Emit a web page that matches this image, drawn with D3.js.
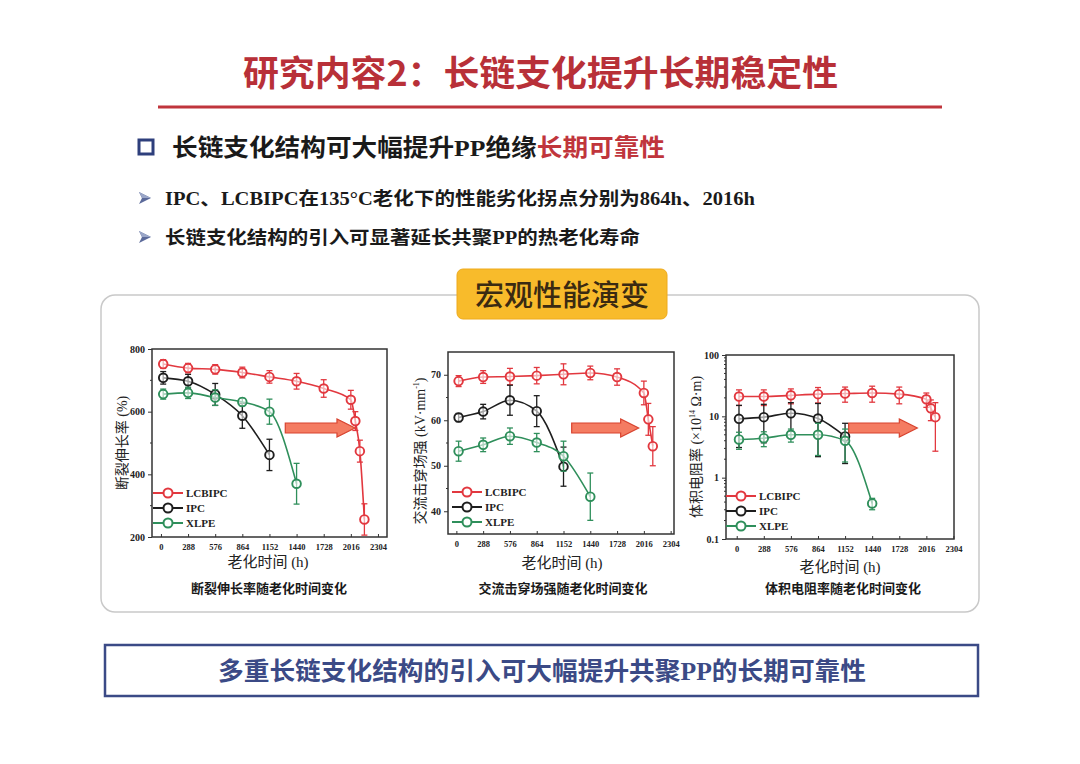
<!DOCTYPE html>
<meta charset="utf-8">
<body style="margin:0;background:#fff">
<script src="https://d3js.org/d3.v7.min.js"></script>
<script>

// Set dimensions of the slide.

var width = 1080,
    height = 764;

// Data.

var seriesNames = ["LCBIPC", "IPC", "XLPE"];
var seriesColors = ["#e2383f", "#1e1e1e", "#2f8f5b"];
var xTicks = [0, 288, 576, 864, 1152, 1440, 1728, 2016, 2304];

// Elongation at break (%)
var elongTimeLCBIPC = [24, 288, 576, 864, 1152, 1440, 1728, 2016, 2064, 2112, 2160];
var elongLCBIPC = [752, 739, 735, 725, 711, 697, 674, 638, 570, 474, 256];
var elongErrLCBIPC = [14, 15, 15, 17, 20, 25, 28, 30, 30, 35, 50];
var elongTimeIPC = [24, 288, 576, 864, 1152];
var elongIPC = [708, 697, 655, 587, 462];
var elongErrIPC = [20, 22, 35, 40, 50];
var elongTimeXLPE = [24, 288, 576, 864, 1152, 1440];
var elongXLPE = [656, 660, 645, 631, 600, 370];
var elongErrXLPE = [16, 18, 25, 12, 40, 65];

// AC breakdown strength (kV/mm)
var bdTimeLCBIPC = [24, 288, 576, 864, 1152, 1440, 1728, 2016, 2064, 2112];
var bdLCBIPC = [68.6, 69.5, 69.6, 69.8, 70.1, 70.4, 69.5, 66.0, 60.2, 54.3];
var bdErrLCBIPC = [1.2, 1.4, 1.8, 1.8, 2.3, 1.5, 1.8, 2.6, 3.5, 4.3];
var bdTimeIPC = [24, 288, 576, 864, 1152];
var bdIPC = [60.6, 61.9, 64.4, 62.0, 49.8];
var bdErrIPC = [0.9, 1.6, 3.3, 3.4, 4.3];
var bdTimeXLPE = [24, 288, 576, 864, 1152, 1440];
var bdXLPE = [53.2, 54.6, 56.5, 55.1, 52.1, 43.2];
var bdErrXLPE = [2.2, 1.5, 1.8, 2.0, 3.3, 5.2];

// Volume resistivity (x10^14 Ohm.m)
var rhoTimeLCBIPC = [24, 288, 576, 864, 1152, 1440, 1728, 2016, 2064, 2112];
var rhoLCBIPC = [21, 21, 22, 23, 23.5, 24, 23, 19, 13.5, 9.7];
var rhoErrLCBIPC = [6, 6, 6, 6.5, 6.5, 7, 7, 5, 5, 7];
var rhoTimeIPC = [24, 288, 576, 864, 1152];
var rhoIPC = [9.1, 9.7, 11.2, 9.2, 4.7];
var rhoErrIPC = [6, 6, 5.5, 7, 3];
var rhoTimeXLPE = [24, 288, 576, 864, 1152, 1440];
var rhoXLPE = [4.2, 4.4, 5.0, 5.0, 4.0, 0.38];
var rhoErrXLPE = [1.3, 1.2, 1.2, 2.7, 2.2, 0.08];

var serif = "'Liberation Serif', 'Noto Sans CJK SC', serif";
var cjk = "'Noto Sans CJK SC', sans-serif";

// Build SVG container.

var svg = d3.select("body").append("svg")
    .attr("width", width)
    .attr("height", height)
    .style("display", "block");

// Slide heading.

svg.append("text")
    .attr("x", 243)
    .attr("y", 86)
    .attr("textLength", 595)
    .attr("lengthAdjust", "spacingAndGlyphs")
    .attr("font-family", cjk)
    .attr("font-weight", 700)
    .attr("font-size", "35px")
    .attr("fill", "#b83038")
    .text("研究内容2：长链支化提升长期稳定性");

svg.append("line")
    .attr("x1", 158).attr("x2", 942)
    .attr("y1", 107).attr("y2", 107)
    .attr("stroke", "#c0353c")
    .attr("stroke-width", 3);

svg.append("rect")
    .attr("x", 139).attr("y", 140)
    .attr("width", 14).attr("height", 14)
    .attr("fill", "#fff")
    .attr("stroke", "#2e3f7c")
    .attr("stroke-width", 3);

var sub = svg.append("text")
    .attr("x", 172)
    .attr("y", 156)
    .attr("textLength", 493)
    .attr("lengthAdjust", "spacingAndGlyphs")
    .attr("font-family", serif)
    .attr("font-weight", 700)
    .attr("font-size", "24px")
    .attr("fill", "#1a1a1a");
sub.append("tspan").text("长链支化结构可大幅提升PP绝缘");
sub.append("tspan").attr("fill", "#c0353c").text("长期可靠性");

var bullets = [
    {y: 205, len: 590, text: "IPC、LCBIPC在135°C老化下的性能劣化拐点分别为864h、2016h"},
    {y: 244, len: 475, text: "长链支化结构的引入可显著延长共聚PP的热老化寿命"}
];

bullets.forEach(function(b) {
    // arrowhead bullet (two-tone like the slide's "➢")
    var cy = b.y - 7;
    svg.append("path")
        .attr("d", "M139," + (cy - 6) + "L151," + cy + "L139," + (cy + 6) + "L142," + cy + "Z")
        .attr("fill", "#5b6a9a");
    svg.append("path")
        .attr("d", "M139," + (cy - 6) + "L151," + cy + "L142," + cy + "Z")
        .attr("fill", "#9aa6c8");
    svg.append("text")
        .attr("x", 165)
        .attr("y", b.y)
        .attr("textLength", b.len)
        .attr("lengthAdjust", "spacingAndGlyphs")
        .attr("font-family", serif)
        .attr("font-weight", 700)
        .attr("font-size", "18px")
        .attr("fill", "#1a1a1a")
        .text(b.text);
});

// Grey panel and its label.

svg.append("rect")
    .attr("x", 101).attr("y", 295)
    .attr("width", 878).attr("height", 317)
    .attr("rx", 14)
    .attr("fill", "#fff")
    .attr("stroke", "#c9c9c9")
    .attr("stroke-width", 1.5);

svg.append("rect")
    .attr("x", 457).attr("y", 269)
    .attr("width", 210).attr("height", 50)
    .attr("rx", 6)
    .attr("fill", "#f8bb2b")
    .attr("stroke", "#eeaa1c");

svg.append("text")
    .attr("x", 562)
    .attr("y", 306)
    .attr("text-anchor", "middle")
    .attr("font-family", cjk)
    .attr("font-weight", 500)
    .attr("font-size", "29px")
    .attr("fill", "#3a2a12")
    .text("宏观性能演变");

// Bottom banner.

svg.append("rect")
    .attr("x", 105).attr("y", 645)
    .attr("width", 873).attr("height", 51)
    .attr("fill", "#fff")
    .attr("stroke", "#3b4a86")
    .attr("stroke-width", 2.5);

svg.append("text")
    .attr("x", 218)
    .attr("y", 680)
    .attr("textLength", 648)
    .attr("lengthAdjust", "spacingAndGlyphs")
    .attr("font-family", serif)
    .attr("font-weight", 700)
    .attr("font-size", "25px")
    .attr("fill", "#3b4a86")
    .text("多重长链支化结构的引入可大幅提升共聚PP的长期可靠性");

// One panel of the figure.

function drawPanel(p, idx) {
    var g = svg.append("g");

    var x = d3.scaleLinear().domain(p.xDomain).range([p.left, p.right]);
    var y = (p.log ? d3.scaleLog() : d3.scaleLinear())
        .domain(p.yDomain).range([p.bottom, p.top]);

    var clipId = "clip" + idx;
    g.append("clipPath").attr("id", clipId)
        .append("rect")
        .attr("x", p.left).attr("y", p.top)
        .attr("width", p.right - p.left).attr("height", p.bottom - p.top);

    // x axis
    var xAxis = d3.axisBottom(x).tickValues(xTicks).tickSize(3).tickPadding(4)
        .tickFormat(d3.format("d"));
    var gx = g.append("g")
        .attr("transform", "translate(0," + p.bottom + ")")
        .call(xAxis);
    gx.select(".domain").remove();
    gx.selectAll("line").attr("stroke", "#333").attr("y2", -3);
    gx.selectAll("text")
        .attr("font-family", serif)
        .attr("font-weight", 700)
        .attr("font-size", "8.5px")
        .attr("fill", "#222");

    // y axis
    var yAxis = d3.axisLeft(y).tickValues(p.yTicks).tickSize(4).tickPadding(3)
        .tickFormat(p.yFormat);
    var gy = g.append("g")
        .attr("transform", "translate(" + p.left + ",0)")
        .call(yAxis);
    gy.select(".domain").remove();
    gy.selectAll("line").attr("stroke", "#333");
    gy.selectAll("text")
        .attr("font-family", serif)
        .attr("font-weight", 700)
        .attr("font-size", "10px")
        .attr("fill", "#222");

    g.selectAll(".ytickMinor")
        .data(p.yMinor)
        .enter().append("line")
        .attr("x1", p.left - 2).attr("x2", p.left)
        .attr("y1", function(d) { return y(d); })
        .attr("y2", function(d) { return y(d); })
        .attr("stroke", "#333");

    // frame
    g.append("rect")
        .attr("x", p.left).attr("y", p.top)
        .attr("width", p.right - p.left).attr("height", p.bottom - p.top)
        .attr("fill", "none")
        .attr("stroke", "#333")
        .attr("stroke-width", 1.5);

    // arrow
    var ax0 = x(p.arrow[0]), ax1 = x(p.arrow[1]), ay = p.arrowY;
    g.append("path")
        .attr("d", "M" + ax0 + "," + (ay - 5) + "L" + (ax1 - 18) + "," + (ay - 5) +
            "L" + (ax1 - 18) + "," + (ay - 9) + "L" + ax1 + "," + ay +
            "L" + (ax1 - 18) + "," + (ay + 9) + "L" + (ax1 - 18) + "," + (ay + 5) +
            "L" + ax0 + "," + (ay + 5) + "Z")
        .attr("fill", "#f47c62")
        .attr("stroke", "#d8432f")
        .attr("stroke-width", 1.2);

    var line = d3.line()
        .x(function(d) { return x(d.t); })
        .y(function(d) { return y(d.v); })
        .curve(d3.curveMonotoneX);

    var plot = g.append("g").attr("clip-path", "url(#" + clipId + ")");

    p.series.forEach(function(s, i) {
        var pts = s.t.map(function(t, j) { return {t: t, v: s.v[j], e: s.e[j]}; });
        var col = seriesColors[i];

        plot.append("path")
            .datum(pts)
            .attr("d", line)
            .attr("fill", "none")
            .attr("stroke", col)
            .attr("stroke-width", 1.6);

        var eb = plot.selectAll(".eb" + i).data(pts).enter().append("g");
        eb.append("line")
            .attr("x1", function(d) { return x(d.t); })
            .attr("x2", function(d) { return x(d.t); })
            .attr("y1", function(d) { return y(d.v + d.e); })
            .attr("y2", function(d) { return y(d.v - d.e); })
            .attr("stroke", col).attr("stroke-width", 1.3);
        [1, -1].forEach(function(sg) {
            eb.append("line")
                .attr("x1", function(d) { return x(d.t) - 3; })
                .attr("x2", function(d) { return x(d.t) + 3; })
                .attr("y1", function(d) { return y(d.v + sg * d.e); })
                .attr("y2", function(d) { return y(d.v + sg * d.e); })
                .attr("stroke", col).attr("stroke-width", 1.3);
        });

        plot.selectAll(".pt" + i).data(pts).enter().append("circle")
            .attr("cx", function(d) { return x(d.t); })
            .attr("cy", function(d) { return y(d.v); })
            .attr("r", 4.3)
            .attr("fill", "#fff")
            .attr("fill-opacity", 0.6)
            .attr("stroke", col)
            .attr("stroke-width", 1.9);

        // legend
        var ly = p.legendY + i * 15;
        g.append("line")
            .attr("x1", p.legendX).attr("x2", p.legendX + 30)
            .attr("y1", ly).attr("y2", ly)
            .attr("stroke", col).attr("stroke-width", 2);
        g.append("circle")
            .attr("cx", p.legendX + 15).attr("cy", ly).attr("r", 4.5)
            .attr("fill", "#fff").attr("stroke", col).attr("stroke-width", 2);
        g.append("text")
            .attr("x", p.legendX + 33).attr("y", ly + 4)
            .attr("font-family", serif)
            .attr("font-weight", 700)
            .attr("font-size", "11px")
            .attr("fill", "#222")
            .text(seriesNames[i]);
    });

    // axis titles and caption
    var yt = g.append("text")
        .attr("transform", "translate(" + p.yTitleX + "," + ((p.top + p.bottom) / 2 + p.yTitleDy) + ") rotate(-90)")
        .attr("text-anchor", "middle")
        .attr("font-family", serif)
        .attr("font-size", "14px")
        .attr("fill", "#222");
    p.yTitle.forEach(function(part) {
        var ts = yt.append("tspan").text(part.text);
        if (part.sup) ts.attr("font-size", "8px").attr("dy", -6);
        if (part.after) ts.attr("dy", 6);
    });

    g.append("text")
        .attr("x", p.xTitleX).attr("y", p.xTitleY)
        .attr("text-anchor", "middle")
        .attr("font-family", serif)
        .attr("font-size", "15px")
        .attr("fill", "#222")
        .text("老化时间 (h)");

    g.append("text")
        .attr("x", p.capX).attr("y", 593)
        .attr("text-anchor", "middle")
        .attr("font-family", cjk)
        .attr("font-weight", 700)
        .attr("font-size", "13px")
        .attr("fill", "#1a1a1a")
        .text(p.caption);
}

var panels = [
    {
        left: 152, right: 387, top: 349, bottom: 537,
        xDomain: [-95, 2400], yDomain: [200, 800],
        yTicks: [200, 400, 600, 800], yMinor: [300, 500, 700],
        yFormat: d3.format("d"),
        series: [
            {t: elongTimeLCBIPC, v: elongLCBIPC, e: elongErrLCBIPC},
            {t: elongTimeIPC, v: elongIPC, e: elongErrIPC},
            {t: elongTimeXLPE, v: elongXLPE, e: elongErrXLPE}
        ],
        legendX: 153, legendY: 493,
        arrow: [1320, 2060], arrowY: 428,
        yTitleX: 127, yTitleDy: 0,
        yTitle: [{text: "断裂伸长率 (%)"}],
        xTitleX: 268, xTitleY: 567,
        capX: 269, caption: "断裂伸长率随老化时间变化"
    },
    {
        left: 448, right: 674, top: 352, bottom: 534,
        xDomain: [-90, 2340], yDomain: [35, 75],
        yTicks: [40, 50, 60, 70], yMinor: [45, 55, 65],
        yFormat: d3.format("d"),
        series: [
            {t: bdTimeLCBIPC, v: bdLCBIPC, e: bdErrLCBIPC},
            {t: bdTimeIPC, v: bdIPC, e: bdErrIPC},
            {t: bdTimeXLPE, v: bdXLPE, e: bdErrXLPE}
        ],
        legendX: 452, legendY: 492,
        arrow: [1240, 1960], arrowY: 428,
        yTitleX: 425, yTitleDy: 8,
        yTitle: [{text: "交流击穿场强 (kV·mm"}, {text: "-1", sup: true}, {text: ")", after: true}],
        xTitleX: 562, xTitleY: 568,
        capX: 563, caption: "交流击穿场强随老化时间变化"
    },
    {
        left: 726, right: 954, top: 355, bottom: 539,
        xDomain: [-114, 2310], yDomain: [0.1, 100], log: true,
        yTicks: [0.1, 1, 10, 100],
        yMinor: [0.2, 0.3, 0.4, 0.5, 0.6, 0.7, 0.8, 0.9, 2, 3, 4, 5, 6, 7, 8, 9, 20, 30, 40, 50, 60, 70, 80, 90],
        yFormat: function(d) { return d < 1 ? d.toFixed(1) : d3.format("d")(d); },
        series: [
            {t: rhoTimeLCBIPC, v: rhoLCBIPC, e: rhoErrLCBIPC},
            {t: rhoTimeIPC, v: rhoIPC, e: rhoErrIPC},
            {t: rhoTimeXLPE, v: rhoXLPE, e: rhoErrXLPE}
        ],
        legendX: 726, legendY: 496,
        arrow: [1190, 1920], arrowY: 428,
        yTitleX: 701, yTitleDy: 0,
        yTitle: [{text: "体积电阻率 (×10"}, {text: "14", sup: true}, {text: " Ω·m)", after: true}],
        xTitleX: 840, xTitleY: 572,
        capX: 843, caption: "体积电阻率随老化时间变化"
    }
];

panels.forEach(drawPanel);

</script>
</html>
